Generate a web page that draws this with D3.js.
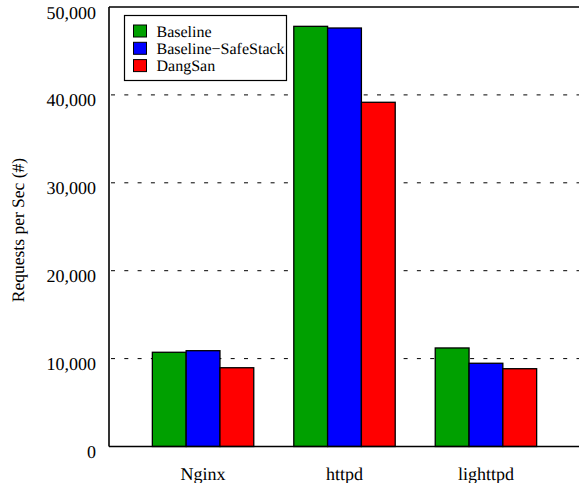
<!DOCTYPE html>
<html>
<head>
<meta charset="utf-8">
<script src="https://cdn.jsdelivr.net/npm/d3@7"></script>
<style>
  html, body { margin: 0; padding: 0; background: #fff; }
  svg { display: block; }
  svg text { font-family: 'Liberation Serif', 'Times New Roman', Tinos, Times, serif; text-rendering: geometricPrecision; }
</style>
</head>
<body>
<svg id="chart" width="579" height="483"></svg>
<script>
const categories = ["Nginx", "httpd", "lighttpd"];
const seriesNames = ["Baseline", "Baseline\u2212SafeStack", "DangSan"];
const seriesColors = ["#00a000", "#0000ff", "#ff0000"];
const baseline = [10720, 47800, 11210];
const baselineSafeStack = [10900, 47610, 9470];
const dangSan = [8960, 39160, 8850];
const yTicks = [0, 10000, 20000, 30000, 40000, 50000];
const yTitle = "Requests per Sec (#)";

const seriesValues = [baseline, baselineSafeStack, dangSan];

const svg = d3.select("#chart");
const mLeft = 109, mRight = 580, mTop = 7, mBottom = 446.5;

const x = d3.scaleLinear().domain([-0.665, categories.length - 1 + 0.665]).range([mLeft, mRight]);
const y = d3.scaleLinear().domain([0, 50000]).range([mBottom, mTop]);
const barW = 0.239;

// gridlines
svg.append("g").selectAll("line")
  .data(yTicks.filter(t => t > 0 && t < 50000))
  .join("line")
  .attr("x1", mLeft + 2).attr("x2", mRight)
  .attr("y1", d => y(d)).attr("y2", d => y(d))
  .attr("stroke", "#000").attr("stroke-width", 1)
  .attr("stroke-dasharray", "4,9.3");

// bars
const data = [];
categories.forEach((c, i) => {
  seriesValues.forEach((vals, s) => {
    data.push({ i, s, v: vals[i] });
  });
});
svg.append("g").selectAll("rect")
  .data(data)
  .join("rect")
  .attr("x", d => x(d.i + (d.s - 1.5) * barW))
  .attr("width", d => x(barW) - x(0))
  .attr("y", d => y(d.v))
  .attr("height", d => y(0) - y(d.v))
  .attr("fill", d => seriesColors[d.s])
  .attr("stroke", "#000").attr("stroke-width", 1.3);

// axes / border
const axisG = svg.append("g");
axisG.append("line").attr("x1", mLeft).attr("x2", mLeft).attr("y1", mTop).attr("y2", mBottom)
  .attr("stroke", "#000").attr("stroke-width", 1.6);
axisG.append("line").attr("x1", mLeft).attr("x2", mRight).attr("y1", mBottom).attr("y2", mBottom)
  .attr("stroke", "#000").attr("stroke-width", 1.6);
axisG.append("line").attr("x1", mLeft).attr("x2", mRight).attr("y1", mTop).attr("y2", mTop)
  .attr("stroke", "#000").attr("stroke-width", 1.6);

// y tick labels
svg.append("g").selectAll("text")
  .data(yTicks)
  .join("text")
  .attr("x", 96)
  .attr("y", d => y(d) + 11.5)
  .attr("text-anchor", "end")
  .attr("font-size", 18)
  .text(d => d3.format(",")(d));

// category labels
svg.append("g").selectAll("text")
  .data(categories)
  .join("text")
  .attr("x", (d, i) => x(i))
  .attr("y", 480)
  .attr("text-anchor", "middle")
  .attr("font-size", 18)
  .text(d => d);

// y title
svg.append("text")
  .attr("transform", "translate(23.5,230) rotate(-90)")
  .attr("text-anchor", "middle")
  .attr("font-size", 17.5)
  .text(yTitle);

// legend
const lg = svg.append("g");
lg.append("rect").attr("x", 124.5).attr("y", 15.5).attr("width", 162).attr("height", 65)
  .attr("fill", "#fff").attr("stroke", "#000").attr("stroke-width", 1.2);
seriesNames.forEach((name, s) => {
  const cy = 31 + s * 17.3;
  lg.append("rect").attr("x", 133.5).attr("y", cy - 6).attr("width", 13).attr("height", 12)
    .attr("fill", seriesColors[s]).attr("stroke", "#000").attr("stroke-width", 1);
  lg.append("text").attr("x", 156.5).attr("y", cy + 5.5).attr("font-size", 16).text(name);
});
</script>
</body>
</html>
